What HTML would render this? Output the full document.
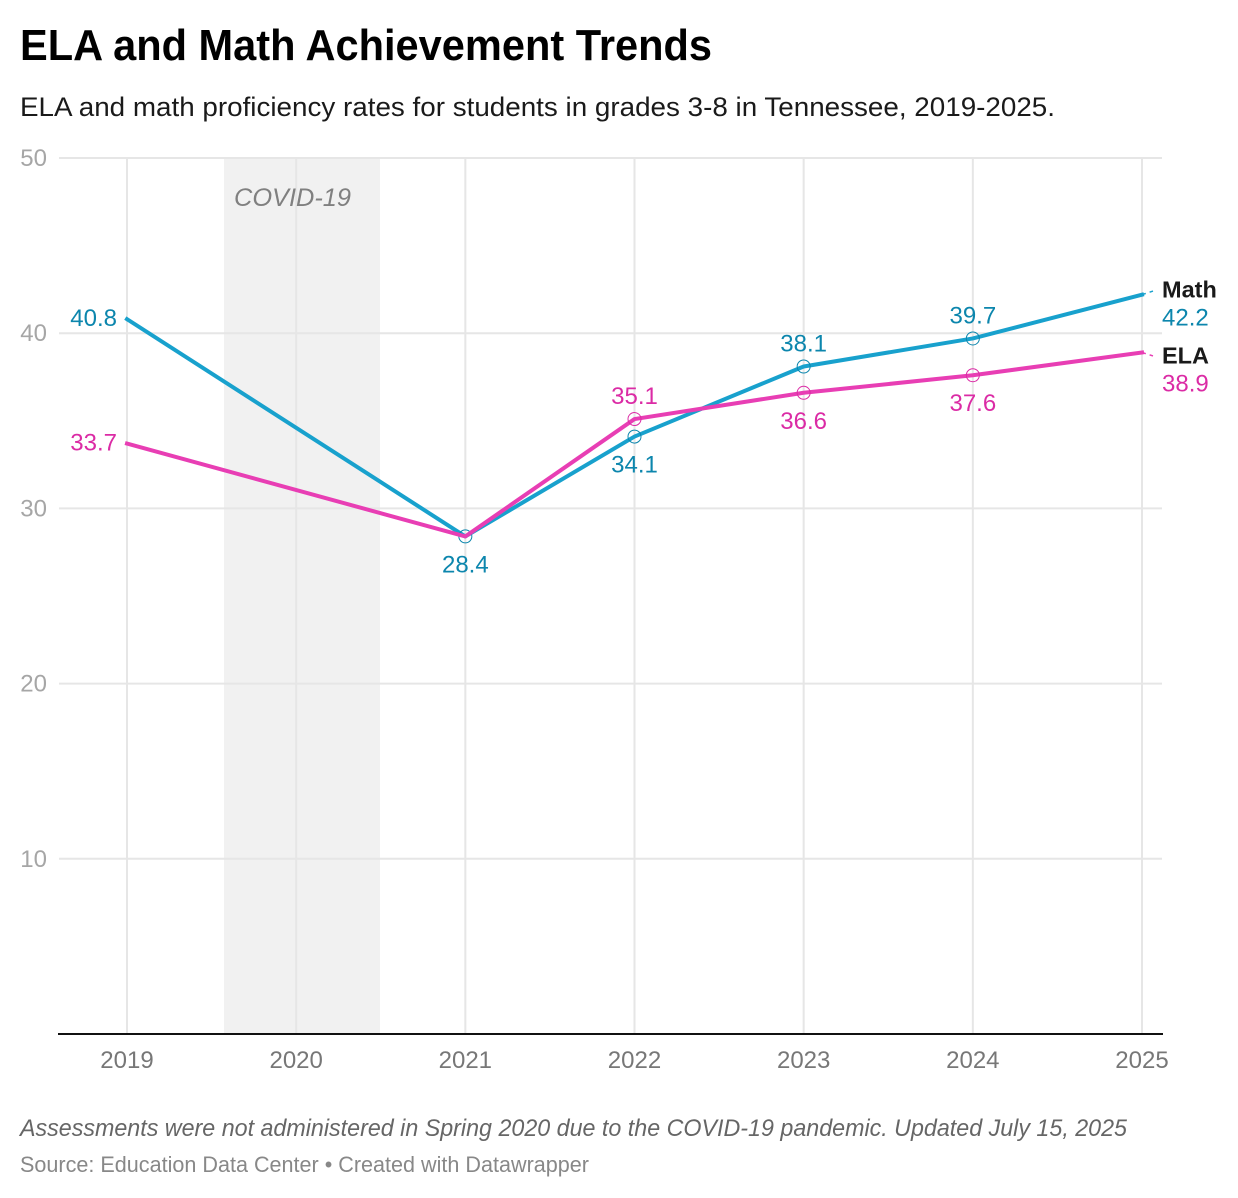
<!DOCTYPE html>
<html lang="en">
<head>
<meta charset="utf-8">
<title>ELA and Math Achievement Trends</title>
<style>
  html, body { margin: 0; padding: 0; background: #fff; }
  body { width: 1238px; height: 1198px; overflow: hidden; }
  svg { display: block; }
  text { font-family: "Liberation Sans", sans-serif; }
</style>
</head>
<body>
<svg id="chart" xmlns="http://www.w3.org/2000/svg" width="1238" height="1198" viewBox="0 0 1238 1198">
  <text x="20" y="60" font-size="44" font-weight="700" fill="#000" textLength="692" lengthAdjust="spacingAndGlyphs">ELA and Math Achievement Trends</text>
  <text x="20" y="116" font-size="27" fill="#1a1a1a" textLength="1035" lengthAdjust="spacingAndGlyphs">ELA and math proficiency rates for students in grades 3-8 in Tennessee, 2019-2025.</text>
  <rect x="224" y="158" width="156" height="876" fill="#f1f1f1"></rect>
  <g id="grid"></g>
  <text x="234" y="206" font-size="25" font-style="italic" fill="#808080" textLength="117" lengthAdjust="spacingAndGlyphs">COVID-19</text>
  <g id="axes"></g>
  <g id="series"></g>
  <text x="20" y="1136" font-size="24" font-style="italic" fill="#666" textLength="1107" lengthAdjust="spacingAndGlyphs">Assessments were not administered in Spring 2020 due to the COVID-19 pandemic. Updated July 15, 2025</text>
  <text x="20" y="1172" font-size="22" fill="#888" textLength="569" lengthAdjust="spacingAndGlyphs">Source: Education Data Center • Created with Datawrapper</text>
</svg>
<script>
const years = [2019, 2020, 2021, 2022, 2023, 2024, 2025];
const yTicks = [10, 20, 30, 40, 50];
const mathValues = [40.8, null, 28.4, 34.1, 38.1, 39.7, 42.2];
const elaValues = [33.7, null, 28.4, 35.1, 36.6, 37.6, 38.9];
const mathLabels = ['40.8', null, '28.4', '34.1', '38.1', '39.7', '42.2'];
const elaLabels = ['33.7', null, null, '35.1', '36.6', '37.6', '38.9'];

const NS = 'http://www.w3.org/2000/svg';
const xScale = year => 127 + (year - 2019) * (1142 - 127) / 6;
const yScale = value => 1034 - value * (1034 - 158) / 50;

function make(tag, attrs, parent, content) {
  const el = document.createElementNS(NS, tag);
  Object.keys(attrs).forEach(k => el.setAttribute(k, attrs[k]));
  if (content !== undefined) el.textContent = content;
  parent.appendChild(el);
  return el;
}

const gridG = document.getElementById('grid');
const axesG = document.getElementById('axes');
const seriesG = document.getElementById('series');

years.forEach(year => {
  const line = make('line', { x1: xScale(year), x2: xScale(year), y1: 158, y2: 1034, stroke: '#e6e6e6', 'stroke-width': 2 }, gridG);
  
  
  const label = make('text', { x: xScale(year), y: 1068, 'font-size': 24, fill: '#777', 'text-anchor': 'middle' }, axesG, year);
  
  
});

yTicks.forEach(tick => {
  const line = make('line', { x1: 59, x2: 1162, y1: yScale(tick), y2: yScale(tick), stroke: '#e6e6e6', 'stroke-width': 2 }, gridG);
  
  
  const label = make('text', { x: 47, y: yScale(tick) + 8, 'font-size': 24, fill: '#a6a6a6', 'text-anchor': 'end' }, axesG, tick);
  
  
});

const baseline = make('line', { x1: 58, x2: 1163, y1: yScale(0), y2: yScale(0), stroke: '#111', 'stroke-width': 2 }, axesG);



function drawSeries(name, values, labels, lineColor, textColor, places, endDy, labelShift) {
  const pts = years.map((y, i) => [y, values[i], i]).filter(p => p[1] !== null);
  const d = pts.map((p, i) => (i ? 'L' : 'M') + xScale(p[0]) + ' ' + yScale(p[1])).join(' ');
  const path = make('path', { d: d, fill: 'none', stroke: lineColor, 'stroke-width': 4, 'stroke-linejoin': 'round', 'stroke-linecap': 'square' }, seriesG);
  
  

  pts.forEach(p => {
    const i = p[2], cx = xScale(p[0]), cy = yScale(p[1]);
    if (i > 1 && i < years.length - 1 && labels[i] !== null) {
      const dot = make('circle', { cx: cx, cy: cy, r: 6.5, fill: 'none', stroke: textColor, 'stroke-width': 1 }, seriesG);
      
      
    }
    if (i === years.length - 1) {
      const lead = make('line', { x1: cx, y1: cy, x2: 1153, y2: cy + endDy, stroke: lineColor, 'stroke-width': 1.5, 'stroke-dasharray': '4 4 4' }, seriesG);
      
      
    }
    if (labels[i] === null) return;
    const place = places[i];
    let attrs;
    if (place === 'left') attrs = { x: cx - 10, y: cy + 7, 'text-anchor': 'end' };
    else if (place === 'above') attrs = { x: cx, y: cy - 15, 'text-anchor': 'middle' };
    else if (place === 'below') attrs = { x: cx, y: cy + 36, 'text-anchor': 'middle' };
    else attrs = { x: 1162, y: cy + 31 + labelShift, 'text-anchor': 'start' };
    attrs['font-size'] = 24;
    attrs.fill = textColor;
    const label = make('text', attrs, seriesG, labels[i]);
    
    
  });

  const last = pts[pts.length - 1];
  const title = make('text', { x: 1162, y: yScale(last[1]) + 3 + labelShift, 'font-size': 23.5, 'font-weight': 700, fill: '#1a1a1a' }, seriesG, name === 'math' ? 'Math' : 'ELA');
  
  
}

drawSeries('math', mathValues, mathLabels, '#18a1cd', '#0c86ad',
  ['left', null, 'below', 'below', 'above', 'above', 'right'], -3.6, 0);
drawSeries('ela', elaValues, elaLabels, '#e83eb4', '#db2ba5',
  ['left', null, null, 'above', 'below', 'below', 'right'], 3.5, 8);
</script>
</body>
</html>
